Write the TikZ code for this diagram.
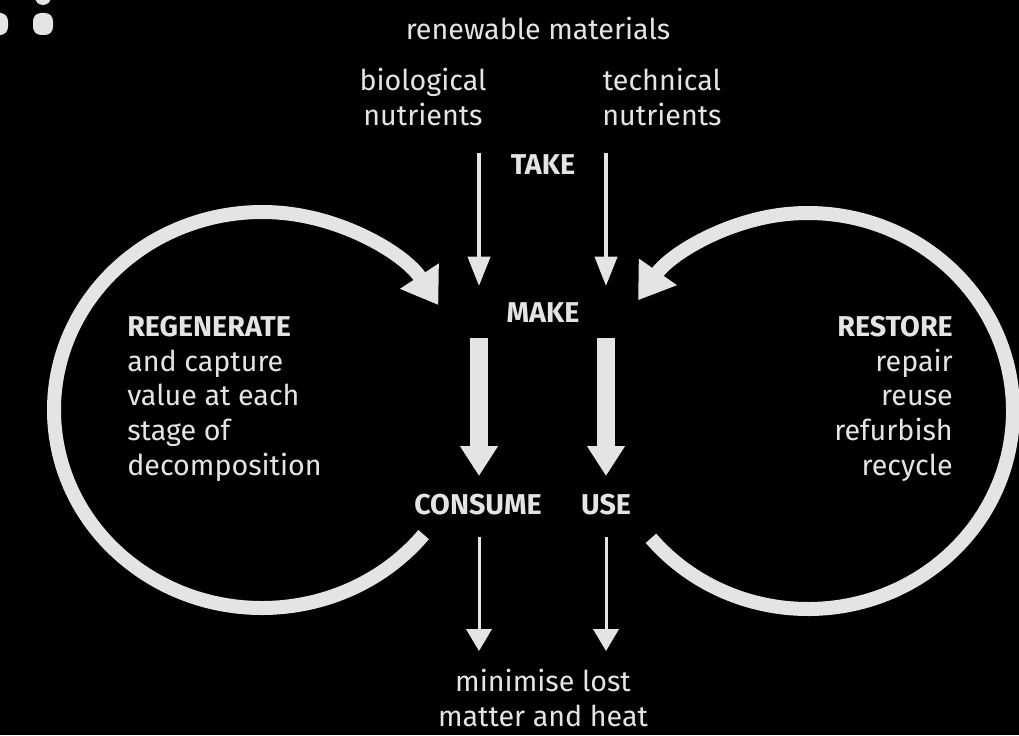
\documentclass[tikz,border=0pt]{standalone}
\usepackage{fontspec}
\setmainfont{Fira Sans}
\usetikzlibrary{arrows.meta}
\definecolor{ink}{RGB}{228,228,228}
\tikzset{
  lbl/.style={text=ink, inner sep=0pt, align=center, font=\fontsize{21.5}{26}\selectfont},
  hdr/.style={lbl, font=\fontsize{21.5}{26}\selectfont\bfseries},
  takeArrow/.style={draw=ink, line width=3, -{Triangle[width=16.5,length=22]}},
  makeArrow/.style={draw=ink, line width=13.5, -{Triangle[width=27,length=22.5]}},
  lossArrow/.style={draw=ink, line width=2.25, -{Triangle[width=19,length=16.5]}},
  loopArrow/.style={draw=ink, line width=10.5, -{Triangle[width=33,length=26]}},
}
\begin{document}
\begin{tikzpicture}[x=0.75pt,y=0.75pt,yscale=-1,xscale=1]
\useasboundingbox (0,0) rectangle (1019,735);
\fill[black] (0,0) rectangle (1019,735);
\clip (0,0) rectangle (1019,735);

%Shapes cut at the corner
\fill[ink, rounded corners=6] (-6,13) rectangle (8,35);
\fill[ink, rounded corners=6] (33,13) rectangle (53,35);
\fill[ink, rounded corners=6] (35,-16) rectangle (51,5);

% Text Node
\draw (538,28) node [lbl] (renew) {renewable materials};
% Text Node
\draw (423,97) node [lbl] (bio) {biological\\nutrients};
% Text Node
\draw (662,97) node [lbl] (tech) {technical\\nutrients};
% Text Node
\draw (543,165) node [hdr] (take) {TAKE};
% Text Node
\draw (543,313) node [hdr] (make) {MAKE};
% Text Node
\draw (478,505) node [hdr] (consume) {CONSUME};
% Text Node
\draw (606,505) node [hdr] (use) {USE};
% Text Node
\draw (127,316) node [lbl, anchor=north west, align=left] (regen) {\textbf{REGENERATE}\\and capture\\value at each\\stage of\\decomposition};
% Text Node
\draw (953,316) node [lbl, anchor=north east, align=right] (restore) {\textbf{RESTORE}\\repair\\reuse\\refurbish\\recycle};
% Text Node
\draw (543,727) node [lbl, anchor=south] (loss) {minimise lost\\matter and heat};

%Arrow ends
\coordinate (bioTop) at (479,153);
\coordinate (bioEnd) at (479,286);
\coordinate (techTop) at (606,153);
\coordinate (techEnd) at (606,286);
\coordinate (makeL) at (479,338);
\coordinate (makeR) at (606,338);
\coordinate (consumeEnd) at (479,476);
\coordinate (useEnd) at (606,476);
\coordinate (lossL) at (479,537);
\coordinate (lossR) at (606,537);
\coordinate (lossLEnd) at (479,651);
\coordinate (lossREnd) at (606,651);
\coordinate (regenC) at (262,410);
\coordinate (restoreC) at (808,411);

%Straight Lines
\draw [takeArrow] (bioTop) -- (bioEnd);
\draw [takeArrow] (techTop) -- (techEnd);
\draw [makeArrow] (makeL) -- (consumeEnd);
\draw [makeArrow] (makeR) -- (useEnd);
\draw [lossArrow] (lossL) -- (lossLEnd);
\draw [lossArrow] (lossR) -- (lossREnd);

%Curve Lines
\draw [loopArrow] (regenC) ++(39:208 and 198) arc [start angle=39, end angle=328, x radius=208, y radius=198];
\draw [loopArrow] (restoreC) ++(140:205 and 198) arc [start angle=140, end angle=-146, x radius=205, y radius=198];

\end{tikzpicture}
\end{document}
